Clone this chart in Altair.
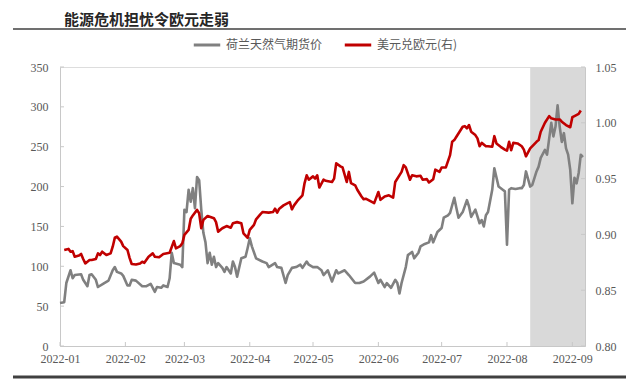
import altair as alt
import pandas as pd

TITLE = "能源危机担忧令欧元走弱"
SERIES = ["荷兰天然气期货价", "美元兑欧元(右)"]
COLORS = ["#808080", "#c00000"]

gas_dates = ["01-01","01-03","01-04","01-06","01-07","01-08","01-11","01-12","01-14","01-15","01-16","01-18","01-19","01-22","01-24","01-26","01-27","01-28","01-30","01-31",
             "02-02","02-03","02-04","02-06","02-09","02-11","02-13","02-15","02-16","02-18","02-19","02-21","02-22","02-23","02-24","02-27","02-28",
             "03-01","03-02","03-03","03-04","03-05","03-06","03-07","03-08","03-09","03-10","03-11","03-12","03-13","03-14","03-15","03-16","03-17","03-19","03-20","03-21","03-23","03-24","03-25","03-26","03-28","03-30","03-31",
             "04-01","04-02","04-04","04-07","04-09","04-10","04-13","04-14","04-16","04-18","04-19","04-21","04-23","04-25","04-26","04-28","04-29",
             "05-01","05-03","05-05","05-06","05-08","05-10","05-12","05-13","05-16","05-18","05-21","05-23","05-25","05-28","05-30",
             "06-01","06-02","06-04","06-05","06-07","06-09","06-10","06-11","06-12","06-14","06-15","06-17","06-18","06-20","06-21","06-23","06-25","06-26","06-27","06-29",
             "07-01","07-02","07-04","07-05","07-07","07-08","07-09","07-11","07-13","07-14","07-15","07-17","07-19","07-20","07-21","07-22","07-23","07-25","07-26","07-28","07-30","07-31",
             "08-01","08-02","08-03","08-05","08-07","08-08","08-09","08-10","08-12","08-13","08-15","08-16","08-17","08-19","08-20","08-22","08-23","08-24","08-25","08-26","08-27","08-28","08-29","08-30","08-31",
             "09-01","09-02","09-03","09-04","09-05","09-06"]
gas_values = [54,55,79,95,85,89,90,83,75,89,90,83,74,79,82,95,99,93,91,88,
              76,76,83,82,75,75,78,68,74,73,76,74,85,117,104,102,99,
              171,168,196,181,198,173,212,208,171,142,130,104,117,102,112,99,104,98,93,99,91,106,99,87,110,112,123,
              135,125,110,106,104,99,104,99,98,79,89,98,99,102,98,106,102,
              99,99,95,89,95,81,95,91,95,89,79,79,81,87,92,
              79,83,74,79,73,83,79,66,79,99,114,118,110,117,125,128,130,139,130,143,
              148,161,164,167,186,173,161,168,183,175,162,171,154,158,150,164,168,196,223,200,196,194,
              127,196,198,197,198,198,202,219,200,202,219,225,236,246,240,280,263,275,302,275,256,267,248,240,221,
              179,211,204,217,240,237]

fx_dates = ["01-03","01-05","01-06","01-07","01-08","01-10","01-11","01-12","01-13","01-15","01-16","01-18","01-19","01-20","01-21","01-23","01-25","01-26","01-27","01-28","01-30","01-31",
            "02-02","02-03","02-04","02-06","02-08","02-09","02-10","02-12","02-14","02-15","02-17","02-19","02-22","02-24","02-25","02-27","02-28",
            "03-01","03-03","03-04","03-05","03-07","03-08","03-09","03-10","03-12","03-15","03-16","03-17","03-19","03-21","03-23","03-24","03-26","03-28","03-29","03-31",
            "04-01","04-03","04-04","04-06","04-07","04-10","04-12","04-13","04-14","04-15","04-17","04-19","04-20","04-21","04-22","04-24","04-26","04-27","04-28","04-29",
            "05-01","05-02","05-03","05-04","05-06","05-07","05-10","05-11","05-12","05-14","05-15","05-17","05-18","05-19","05-21","05-22","05-24","05-25","05-26","05-28","05-30",
            "06-01","06-02","06-04","06-06","06-08","06-09","06-12","06-13","06-14","06-16","06-17","06-19","06-21","06-22","06-24","06-25","06-27","06-28","06-30",
            "07-01","07-03","07-05","07-06","07-07","07-08","07-11","07-12","07-13","07-14","07-15","07-17","07-18","07-19","07-20","07-22","07-23","07-25","07-26","07-27","07-29","07-31",
            "08-01","08-02","08-03","08-04","08-06","08-08","08-09","08-10","08-12","08-15","08-16","08-17","08-19","08-21","08-22","08-24","08-26","08-27","08-29","08-31",
            "09-01","09-02","09-04","09-05"]
fx_values = [0.886,0.887,0.8845,0.885,0.880,0.881,0.8825,0.878,0.874,0.877,0.877,0.878,0.883,0.8815,0.8845,0.8815,0.883,0.889,0.897,0.898,0.8935,0.8895,
             0.886,0.879,0.8735,0.873,0.874,0.8755,0.8745,0.880,0.883,0.880,0.8795,0.8825,0.8836,0.894,0.8875,0.8895,0.892,
             0.8995,0.904,0.914,0.917,0.922,0.919,0.9055,0.913,0.9165,0.9145,0.911,0.9025,0.9055,0.9075,0.906,0.910,0.911,0.910,0.901,0.897,
             0.904,0.9085,0.9135,0.918,0.920,0.9195,0.920,0.923,0.9195,0.923,0.926,0.928,0.929,0.9225,0.926,0.931,0.935,0.946,0.953,0.949,
             0.952,0.950,0.953,0.942,0.949,0.948,0.947,0.950,0.9637,0.961,0.960,0.947,0.956,0.946,0.944,0.940,0.934,0.9315,0.932,0.930,0.928,
             0.938,0.931,0.934,0.935,0.933,0.947,0.956,0.962,0.960,0.949,0.953,0.952,0.9525,0.949,0.9495,0.9465,0.9495,0.958,0.956,
             0.960,0.960,0.971,0.983,0.9845,0.9875,0.9965,0.997,0.995,0.998,0.992,0.989,0.986,0.979,0.982,0.979,0.979,0.9785,0.988,0.9815,0.9785,0.976,
             0.975,0.983,0.9755,0.982,0.9815,0.979,0.976,0.970,0.977,0.983,0.9845,0.992,1.000,1.006,1.004,1.003,1.003,1.001,0.998,0.996,
             1.005,1.006,1.008,1.011]

left_ticks = [0, 50, 100, 150, 200, 250, 300, 350]
right_ticks = [0.80, 0.85, 0.90, 0.95, 1.00, 1.05]
month_ticks = ["2022-01-01","2022-02-01","2022-03-01","2022-04-01","2022-05-01",
               "2022-06-01","2022-07-01","2022-08-01","2022-09-01"]
x_domain = ["2022-01-01", "2022-09-07"]
shade_span = ["2022-08-12", "2022-09-07"]

W, H = 525, 279
AXIS_GREY = "#c8c8c8"
LABEL_GREY = "#595959"
SERIF = "Liberation Serif"
CJK = "Noto Sans CJK SC"

gas_df = pd.DataFrame({"date": ["2022-" + d for d in gas_dates], "value": gas_values, "series": SERIES[0]})
fx_df = pd.DataFrame({"date": ["2022-" + d for d in fx_dates], "value": fx_values, "series": SERIES[1]})
shade_df = pd.DataFrame({"date": [shade_span[0]], "end": [shade_span[1]]})
month_df = pd.DataFrame({"date": month_ticks})

xscale = alt.Scale(domain=x_domain)
xaxis = alt.Axis(values=month_ticks, format="%Y-%m", ticks=False, tickSize=0,
                 labelPadding=7, labelFont=SERIF, labelFontSize=12,
                 labelColor=LABEL_GREY, domainColor=AXIS_GREY, grid=False,
                 labelFlush=False, labelOverlap=False)
X = alt.X("date:T", scale=xscale, axis=xaxis, title=None)

color = alt.Color("series:N",
                  scale=alt.Scale(domain=SERIES, range=COLORS),
                  legend=alt.Legend(title=None, orient="none", direction="horizontal",
                                    legendX=132, legendY=-37, symbolType="stroke",
                                    symbolSize=700, symbolStrokeWidth=3,
                                    labelFont=CJK, labelFontSize=12, labelColor=LABEL_GREY,
                                    columnPadding=15, labelOffset=4))

shade = alt.Chart(shade_df).mark_rect(color="#d9d9d9").encode(
    x=X, x2="end:T",
    y=alt.value(0), y2=alt.value(H))

gas_line = alt.Chart(gas_df).mark_line(strokeWidth=2.6, strokeJoin="round").encode(
    x=X,
    y=alt.Y("value:Q", scale=alt.Scale(domain=[0, 350]), title=None,
            axis=alt.Axis(orient="left", values=left_ticks, ticks=False, tickSize=0,
                          labelPadding=12, labelFont=SERIF, labelFontSize=12,
                          labelColor=LABEL_GREY, domainColor=AXIS_GREY, grid=False)),
    color=color)

fx_line = alt.Chart(fx_df).mark_line(strokeWidth=2.6, strokeJoin="round").encode(
    x=X,
    y=alt.Y("value:Q", scale=alt.Scale(domain=[0.80, 1.05]), title=None,
            axis=alt.Axis(orient="right", values=right_ticks, format=".2f", ticks=False,
                          tickSize=0, labelPadding=10, labelFont=SERIF, labelFontSize=12,
                          labelColor=LABEL_GREY, domainColor=AXIS_GREY, grid=False)),
    color=color)

lt = alt.Chart(pd.DataFrame({"v": left_ticks})).mark_rule(color=AXIS_GREY).encode(
    y=alt.Y("v:Q", scale=alt.Scale(domain=[0, 350]), axis=None),
    x=alt.value(0), x2=alt.value(4))
rt = alt.Chart(pd.DataFrame({"v": right_ticks})).mark_rule(color=AXIS_GREY).encode(
    y=alt.Y("v:Q", scale=alt.Scale(domain=[0.80, 1.05]), axis=None),
    x=alt.value(W - 4), x2=alt.value(W))
bt = alt.Chart(month_df).mark_rule(color=AXIS_GREY).encode(
    x=X, y=alt.value(H - 4), y2=alt.value(H))

title_txt = alt.Chart(pd.DataFrame({"t": [TITLE]})).mark_text(
    font=CJK, fontSize=15, fontWeight="bold", color="#262626", align="left",
    baseline="middle").encode(text="t:N", x=alt.value(4), y=alt.value(-47))
top_rule = alt.Chart(pd.DataFrame({"a": [0]})).mark_rule(color="#404040", strokeWidth=1.5).encode(
    x=alt.value(-47), x2=alt.value(566), y=alt.value(-38))
bottom_rule = alt.Chart(pd.DataFrame({"a": [0]})).mark_rule(color="#404040", strokeWidth=3).encode(
    x=alt.value(-47), x2=alt.value(566), y=alt.value(310))

chart = alt.layer(shade, gas_line, fx_line, lt, rt, bt, title_txt, top_rule, bottom_rule).resolve_scale(
    y="independent"
).properties(
    width=W, height=H,
    autosize=alt.AutoSizeParams(type="none"),
    padding={"left": 52, "top": 59, "right": 47, "bottom": 33},
).configure_view(stroke=None).configure(background="white")

chart.save("out.html", embed_options={"renderer": "svg", "actions": False})
